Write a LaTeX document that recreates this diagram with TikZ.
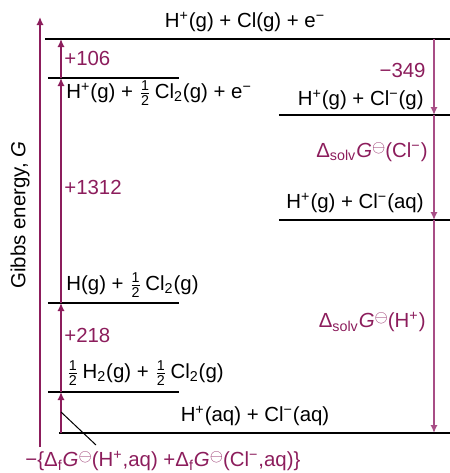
\documentclass[tikz,border=0pt]{standalone}
\usepackage{fontspec}
\setmainfont{Liberation Sans}
\usepackage{amsmath}
\usetikzlibrary{arrows.meta,positioning}
\definecolor{pflaume}{HTML}{8C1D5C}
\definecolor{malve}{HTML}{A84E86}
\newcommand{\half}{$\frac{\text{1}}{\text{2}}$}
\newcommand{\stdG}{\textit{G}\raisebox{0.45ex}{\scalebox{0.85}{$\ominus$}}}
\newcommand{\solvD}{Δ\textsubscript{solv}}
\newcommand{\fD}{Δ\textsubscript{f}}

\begin{document}
\begin{tikzpicture}[x=0.5pt, y=-0.5pt, >={Latex[length=4pt,width=3.6pt]},
      niveau/.style={line width=0.75pt},
      pfeil/.style={->, line width=0.75pt, pflaume},
      ab/.style={->, line width=0.75pt, malve},
      txt/.style={inner sep=0pt, font=\fontsize{10.2}{12}\selectfont},
      wert/.style={txt, text=pflaume}]
    \useasboundingbox (0,0) rectangle (450,473);
    % Energieniveaus
    \draw[niveau] (45,39) -- (450,39);
    \draw[niveau] (48,78) -- (179,78);
    \draw[niveau] (279,115) -- (450,115);
    \draw[niveau] (279,220) -- (450,220);
    \draw[niveau] (48,303) -- (179,303);
    \draw[niveau] (48,392) -- (179,392);
    \draw[niveau] (59,433) -- (450,433);
    % Punkte fuer die Pfeile
    \coordinate (l0) at (61,433);
    \coordinate (l1) at (61,392);
    \coordinate (l2) at (61,303);
    \coordinate (l3) at (61,78);
    \coordinate (l4) at (61,39);
    \coordinate (r0) at (434,39);
    \coordinate (r1) at (434,115);
    \coordinate (r2) at (434,220);
    \coordinate (r3) at (434,433);
    \coordinate (g0) at (40,447);
    \coordinate (g1) at (40,17);
    \coordinate (f0) at (96,445);
    % Achse
    \draw[pfeil] (g0) -- (g1);
    \node[txt, rotate=90] (achse) at (20,215) {Gibbs energy, \textit{G}};
    % Kreisprozess links
    \draw[pfeil] (l0) -- (l1);
    \draw[pfeil] (l1) -- (l2);
    \draw[pfeil] (l2) -- (l3);
    \draw[pfeil] (l3) -- (l4);
    % rechts abwaerts
    \draw[ab] (r0) -- (r1);
    \draw[ab] (r1) -- (r2);
    \draw[ab] (r2) -- (r3);
    % Beschriftungen
    \node[txt] (top) at (245,22) {H\textsuperscript{+}(g) + Cl(g) + e\textsuperscript{−}};
    \node[txt, anchor=west] (ion) at (66,93) {H\textsuperscript{+}(g) + \half\,Cl\textsubscript{2}(g) + e\textsuperscript{−}};
    \node[txt, anchor=east] (gas) at (424,100) {H\textsuperscript{+}(g) + Cl\textsuperscript{−}(g)};
    \node[txt, anchor=east] (clsolv) at (424,203) {H\textsuperscript{+}(g) + Cl\textsuperscript{−}(aq)};
    \node[txt, anchor=west] (atom) at (66,285) {H(g) + \half\,Cl\textsubscript{2}(g)};
    \node[txt, anchor=west] (elem) at (66,373) {\half\,H\textsubscript{2}(g) + \half\,Cl\textsubscript{2}(g)};
    \node[txt] (aq) at (255,416) {H\textsuperscript{+}(aq) + Cl\textsuperscript{−}(aq)};
    \node[wert, anchor=west] (w106) at (64,58) {+106};
    \node[wert, anchor=west] (w1312) at (64,187) {+1312};
    \node[wert, anchor=west] (w218) at (64,335) {+218};
    \node[wert, anchor=east] (w349) at (426,70) {−349};
    \node[wert, anchor=east] (wcl) at (428,152) {\solvD\stdG(Cl\textsuperscript{−})};
    \node[wert, anchor=east] (wh) at (426,322) {\solvD\stdG(H\textsuperscript{+})};
    \node[wert, anchor=west] (wf) at (25,461) {−\{\fD\stdG(H\textsuperscript{+},aq) +\fD\stdG(Cl\textsuperscript{−},aq)\}};
    \draw[line width=0.5pt] (l0) ++(0,-21) coordinate (f1) (f1) -- (f0);
\end{tikzpicture}
\end{document}
